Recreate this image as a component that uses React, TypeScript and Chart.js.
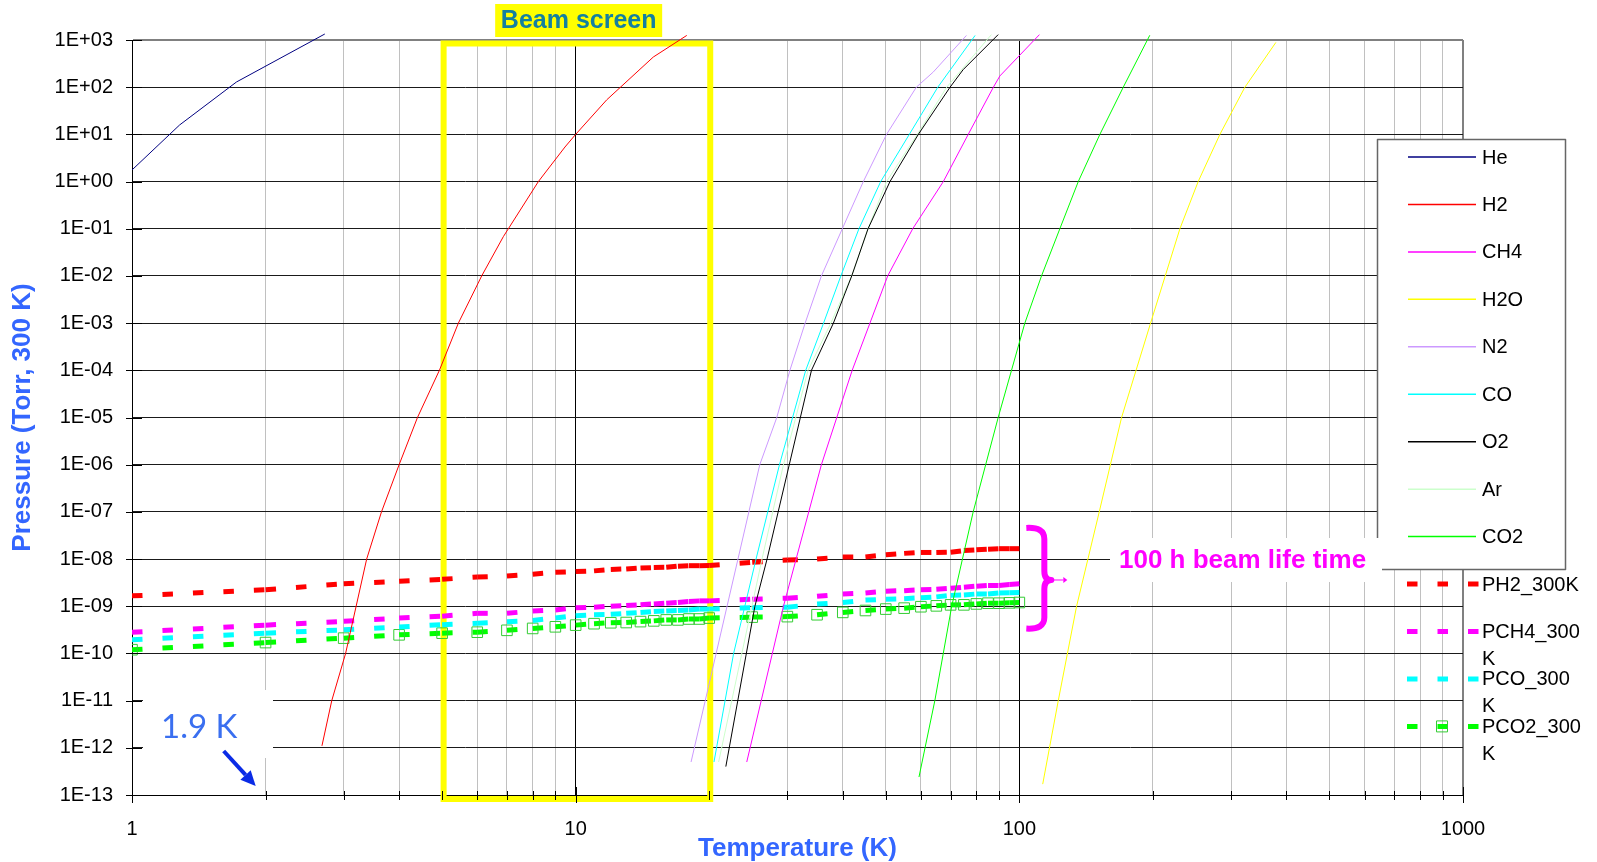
import React, { useEffect, useRef } from 'react';
import { Chart, registerables } from 'chart.js';

Chart.register(...registerables);

const FONT = "'Liberation Sans', Arial, Helvetica, sans-serif";

// ---- Saturated vapour pressure curves: temperature [K] / pressure [Torr] ----
const heT = [1.0, 1.28, 1.72, 2.72];
const heP = [1.76, 15.8, 129, 1340];

const h2T = [2.68, 2.82, 3.03, 3.38, 3.65, 4.0, 4.4, 4.93, 5.44, 6.14, 6.87, 8.24, 9.46, 10.0, 11.75, 14.96, 17.8];
const h2P = [1.1e-12, 1e-11, 1e-10, 1e-8, 1e-7, 1e-6, 1e-5, 1e-4, 1e-3, 1e-2, 6.8e-2, 1, 5.4, 10, 54, 435, 1250];

const ch4T = [24.3, 29.4, 35.8, 42.0, 50.5, 57.5, 67.4, 76.7, 87.4, 90.4, 111];
const ch4P = [5e-13, 1e-9, 1e-6, 1e-4, 1e-2, 0.1, 1, 10, 100, 173, 1300];

const h2oT = [112.9, 122.4, 134.6, 151.4, 170.0, 197.6, 230.1, 253.0, 283.2, 322.4, 378.7];
const h2oP = [1.7e-13, 1e-11, 1e-9, 1e-7, 1e-5, 1e-3, 0.1, 1, 10, 100, 890];

const n2T = [18.2, 26.0, 28.4, 30.4, 32.9, 35.8, 39.9, 44.5, 50.2, 58.6, 64.0, 76.0];
const n2P = [5e-13, 1e-6, 1e-5, 1e-4, 1e-3, 1e-2, 0.1, 1, 10, 100, 210, 1250];

const coT = [20.5, 22.7, 25.5, 28.8, 33.0, 36.2, 39.6, 43.5, 48.7, 56.5, 65.5, 79.5];
const coP = [5e-13, 1e-10, 1e-8, 1e-6, 1e-4, 1e-3, 1e-2, 0.1, 1, 10, 100, 1250];

const o2T = [21.8, 25.35, 27.0, 30.3, 34.0, 38.1, 41.9, 45.6, 51.1, 59.2, 69.8, 74.7, 89.6];
const o2P = [4e-13, 1e-9, 1e-8, 1e-6, 1e-4, 1e-3, 1e-2, 0.1, 1, 10, 100, 235, 1300];

const arT = [21.0, 26.3, 29.4, 33.4, 37.6, 41.9, 45.6, 50.2, 58.9, 68.6, 86.5];
const arP = [5e-13, 1e-8, 1e-6, 1e-4, 1e-3, 1e-2, 0.1, 1, 10, 100, 1300];

const co2T = [59.4, 64.5, 70.4, 78.7, 89.6, 102.9, 112.2, 123.4, 135.8, 151.9, 171.5, 196.8];
const co2P = [2.4e-13, 1e-11, 1e-9, 1e-7, 1e-5, 1e-3, 1e-2, 0.1, 1, 10, 100, 1260];

// ---- Equivalent pressures at 300 K for a 100 h beam life time ----
const T300 = [1, 2, 3, 4, 5, 6, 7, 8, 9, 10, 11, 12, 13, 14, 15, 16, 17, 18, 19, 20, 25, 30, 35, 40, 45, 50, 55, 60, 65, 70, 75, 80, 85, 90, 95, 100];
const pH2_300K = [1.66e-9, 2.24e-9, 2.99e-9, 3.39e-9, 3.72e-9, 4.17e-9, 4.37e-9, 4.79e-9, 5.25e-9, 5.43e-9, 5.62e-9, 6.03e-9, 6.17e-9, 6.46e-9, 6.61e-9, 6.68e-9, 7.08e-9, 7.24e-9, 7.24e-9, 7.33e-9, 8.51e-9, 9.55e-9, 1.0e-8, 1.10e-8, 1.11e-8, 1.24e-8, 1.32e-8, 1.38e-8, 1.38e-8, 1.40e-8, 1.51e-8, 1.57e-8, 1.62e-8, 1.66e-8, 1.66e-8, 1.66e-8];
const pCH4_300K = [2.82e-10, 3.98e-10, 4.79e-10, 5.62e-10, 6.17e-10, 7.08e-10, 7.08e-10, 7.94e-10, 8.32e-10, 9.33e-10, 9.55e-10, 1.0e-9, 1.04e-9, 1.08e-9, 1.12e-9, 1.16e-9, 1.20e-9, 1.26e-9, 1.30e-9, 1.30e-9, 1.41e-9, 1.48e-9, 1.62e-9, 1.82e-9, 1.91e-9, 2.09e-9, 2.14e-9, 2.24e-9, 2.29e-9, 2.40e-9, 2.54e-9, 2.66e-9, 2.75e-9, 2.75e-9, 2.88e-9, 2.99e-9];
const pCO_300K = [1.95e-10, 2.69e-10, 3.16e-10, 3.63e-10, 4.07e-10, 4.37e-10, 4.68e-10, 5.01e-10, 5.62e-10, 6.31e-10, 6.61e-10, 6.76e-10, 7.08e-10, 7.41e-10, 7.76e-10, 7.94e-10, 8.13e-10, 8.32e-10, 8.71e-10, 8.71e-10, 9.33e-10, 9.55e-10, 1.11e-9, 1.20e-9, 1.35e-9, 1.41e-9, 1.45e-9, 1.51e-9, 1.58e-9, 1.70e-9, 1.74e-9, 1.82e-9, 1.82e-9, 1.91e-9, 1.93e-9, 1.95e-9];
const pCO2_300K = [1.20e-10, 1.70e-10, 2.11e-10, 2.48e-10, 2.69e-10, 2.82e-10, 3.09e-10, 3.39e-10, 3.67e-10, 3.98e-10, 4.27e-10, 4.47e-10, 4.52e-10, 4.73e-10, 4.90e-10, 5.13e-10, 5.13e-10, 5.37e-10, 5.37e-10, 5.62e-10, 5.89e-10, 6.03e-10, 6.61e-10, 7.41e-10, 8.13e-10, 8.71e-10, 9.12e-10, 9.77e-10, 1.02e-9, 1.07e-9, 1.07e-9, 1.12e-9, 1.16e-9, 1.16e-9, 1.18e-9, 1.20e-9];

const solidNames = ['He', 'H2', 'CH4', 'H2O', 'N2', 'CO', 'O2', 'Ar', 'CO2'];
const solidColors = ['#000080', '#FF0000', '#FF00FF', '#FFFF00', '#CC99FF', '#00FFFF', '#000000', '#CCFFCC', '#00FF00'];
const solidT = [heT, h2T, ch4T, h2oT, n2T, coT, o2T, arT, co2T];
const solidP = [heP, h2P, ch4P, h2oP, n2P, coP, o2P, arP, co2P];

const dashNames = ['PH2_300K', 'PCH4_300 K', 'PCO_300 K', 'PCO2_300 K'];
const dashColors = ['#FF0000', '#FF00FF', '#00FFFF', '#00FF00'];
const dashP = [pH2_300K, pCH4_300K, pCO_300K, pCO2_300K];
const markerColor = '#33CC33';

// axis ticks
const xTickValues = [1, 2, 3, 4, 5, 6, 7, 8, 9, 10, 20, 30, 40, 50, 60, 70, 80, 90, 100, 200, 300, 400, 500, 600, 700, 800, 900, 1000];
const yExponents = [-13, -12, -11, -10, -9, -8, -7, -6, -5, -4, -3, -2, -1, 0, 1, 2, 3];

// annotation anchors (data units)
const beamScreenT = [5, 20];
const cryoLabelT = 1.9;
const braceP = [4.8e-8, 3.6e-9, 3.2e-10];
const braceT = 100;

const isDecade = (v: number) => Math.abs(Math.log10(v) - Math.round(Math.log10(v))) < 1e-9;
const expLabel = (v: number) => {
  const e = Math.round(Math.log10(v));
  return '1E' + (e >= 0 ? '+' : '-') + String(Math.abs(e)).padStart(2, '0');
};
const pts = (xs: number[], ys: number[]) => xs.map((x, i) => ({ x, y: ys[i] }));

const annotPlugin = {
  id: 'annot',
  beforeDatasetsDraw(chart: any) {
    const { ctx, scales, chartArea: a } = chart;
    const x = scales.x;
    ctx.save();
    ctx.strokeStyle = '#FFFF00';
    ctx.lineWidth = 6;
    const x0 = x.getPixelForValue(beamScreenT[0]) + 1.5;
    const x1 = x.getPixelForValue(beamScreenT[1]) + 1;
    const y0 = a.top + 3.5;
    const y1 = a.bottom + 4;
    ctx.strokeRect(x0, y0, x1 - x0, y1 - y0);
    ctx.restore();
  },
  afterDraw(chart: any) {
    const { ctx, scales, chartArea: a } = chart;
    const x = scales.x;
    const y = scales.y;
    ctx.save();

    // tick marks crossing the axes
    ctx.strokeStyle = '#000';
    ctx.lineWidth = 1;
    ctx.beginPath();
    yExponents.forEach((e) => {
      const py = Math.round(y.getPixelForValue(Math.pow(10, e))) + 0.5;
      ctx.moveTo(a.left - 6, py);
      ctx.lineTo(a.left + 10, py);
    });
    xTickValues.forEach((v) => {
      const px = Math.round(x.getPixelForValue(v)) + 0.5;
      const major = isDecade(v);
      ctx.moveTo(px, a.bottom - (major ? 8 : 4));
      ctx.lineTo(px, a.bottom + (major ? 8 : 5));
    });
    ctx.stroke();

    // "1.9 K" label with arrow
    ctx.fillStyle = '#FFFFFF';
    ctx.fillRect(143, 690, 130, 68);
    ctx.fillStyle = '#3A6FF0';
    ctx.font = "33px Lato, 'Open Sans', sans-serif";
    ctx.textAlign = 'left';
    ctx.textBaseline = 'alphabetic';
    ctx.fillText('1.9 K', 161, 738);
    const tipX = x.getPixelForValue(cryoLabelT);
    const tipY = a.bottom - 9;
    const sx = tipX - 32, sy = tipY - 35;
    const dx = tipX - sx, dy = tipY - sy;
    const len = Math.hypot(dx, dy);
    const ux = dx / len, uy = dy / len;
    const bx = tipX - 15 * ux, by = tipY - 15 * uy;
    ctx.strokeStyle = '#0A2BE6';
    ctx.fillStyle = '#0A2BE6';
    ctx.lineWidth = 4;
    ctx.beginPath();
    ctx.moveTo(sx, sy);
    ctx.lineTo(bx, by);
    ctx.stroke();
    ctx.beginPath();
    ctx.moveTo(tipX, tipY);
    ctx.lineTo(bx - 7 * uy, by + 7 * ux);
    ctx.lineTo(bx + 7 * uy, by - 7 * ux);
    ctx.closePath();
    ctx.fill();

    // magenta brace
    const xl = x.getPixelForValue(braceT) + 7;
    const xv = xl + 18;
    const xt = xl + 25;
    const yt = y.getPixelForValue(braceP[0]);
    const ym = y.getPixelForValue(braceP[1]);
    const yb = y.getPixelForValue(braceP[2]);
    ctx.strokeStyle = '#FF00FF';
    ctx.lineWidth = 6;
    ctx.lineJoin = 'round';
    ctx.beginPath();
    ctx.moveTo(xl, yt + 1);
    ctx.quadraticCurveTo(xv, yt, xv, yt + 12);
    ctx.lineTo(xv, ym - 9);
    ctx.quadraticCurveTo(xv, ym, xt, ym);
    ctx.quadraticCurveTo(xv, ym, xv, ym + 9);
    ctx.lineTo(xv, yb - 12);
    ctx.quadraticCurveTo(xv, yb, xl, yb - 1);
    ctx.stroke();
    ctx.lineWidth = 1;
    ctx.beginPath();
    ctx.moveTo(xt, ym);
    ctx.lineTo(xt + 12, ym);
    ctx.stroke();
    ctx.fillStyle = '#FF00FF';
    ctx.beginPath();
    ctx.moveTo(xt + 16, ym);
    ctx.lineTo(xt + 12, ym - 3);
    ctx.lineTo(xt + 12, ym + 3);
    ctx.closePath();
    ctx.fill();

    // legend
    const lx = 1377, ly = 139, lw = 188, lh = 430;
    ctx.fillStyle = '#FFFFFF';
    ctx.fillRect(lx, ly, lw, lh);
    ctx.strokeStyle = '#666666';
    ctx.lineWidth = 1.5;
    ctx.strokeRect(lx + 0.5, ly + 0.5, lw, lh);
    const itemY = (i: number) => 157 + i * 47.45;
    ctx.font = `20px ${FONT}`;
    ctx.textBaseline = 'middle';
    ctx.textAlign = 'left';
    solidNames.forEach((name, i) => {
      const iy = itemY(i);
      ctx.strokeStyle = solidColors[i];
      ctx.lineWidth = 1.5;
      ctx.setLineDash([]);
      ctx.beginPath();
      ctx.moveTo(1408, iy);
      ctx.lineTo(1476, iy);
      ctx.stroke();
      ctx.fillStyle = '#000';
      ctx.fillText(name, 1482, iy + 1);
    });
    dashNames.forEach((name, j) => {
      const iy = itemY(solidNames.length + j);
      ctx.strokeStyle = dashColors[j];
      ctx.lineWidth = 5;
      ctx.setLineDash([10.5, 20]);
      ctx.beginPath();
      ctx.moveTo(1407, iy);
      ctx.lineTo(1479, iy);
      ctx.stroke();
      ctx.setLineDash([]);
      if (j === dashNames.length - 1) {
        ctx.strokeStyle = markerColor;
        ctx.lineWidth = 1;
        ctx.strokeRect(1436.5, iy - 5.5, 11, 11);
      }
      ctx.fillStyle = '#000';
      name.split(' ').forEach((line, k) => ctx.fillText(line, 1482, iy + 1 + k * 27));
    });

    // "100 h beam life time"
    ctx.fillStyle = '#FFFFFF';
    ctx.fillRect(1110, 538, 272, 44);
    ctx.fillStyle = '#FF00FF';
    ctx.font = `bold 26px ${FONT}`;
    ctx.textBaseline = 'middle';
    ctx.fillText('100 h beam life time', 1119, 561);

    // "Beam screen" label
    const cx = (x.getPixelForValue(beamScreenT[0]) + x.getPixelForValue(beamScreenT[1])) / 2 + 3;
    ctx.fillStyle = '#FFFF00';
    ctx.fillRect(cx - 83.5, 4, 167, 33);
    ctx.fillStyle = '#1480A0';
    ctx.font = `bold 25px ${FONT}`;
    ctx.textAlign = 'center';
    ctx.fillText('Beam screen', cx, 21.5);

    ctx.restore();
  },
};

export default function App() {
  const ref = useRef<HTMLCanvasElement | null>(null);

  useEffect(() => {
    const canvas = ref.current;
    if (!canvas) return;
    const datasets: any[] = [];
    solidNames.forEach((name, i) => {
      datasets.push({
        label: name,
        data: pts(solidT[i], solidP[i]),
        borderColor: solidColors[i],
        backgroundColor: solidColors[i],
        borderWidth: 1,
        pointRadius: 0,
        fill: false,
        clip: false,
      });
    });
    dashNames.forEach((name, j) => {
      const withMarker = j === dashNames.length - 1;
      datasets.push({
        label: name,
        data: pts(T300, dashP[j]),
        borderColor: dashColors[j],
        backgroundColor: 'transparent',
        borderWidth: 5,
        borderDash: [10.5, 20],
        borderCapStyle: 'butt',
        segment: { borderDashOffset: (c: any) => c.p0DataIndex * 0.001 },
        pointRadius: withMarker ? 7.5 : 0,
        pointStyle: 'rect',
        pointBorderColor: markerColor,
        pointBackgroundColor: 'transparent',
        pointBorderWidth: 1,
        fill: false,
      });
    });

    const titleFont = { family: FONT, size: 26, weight: 'bold' as const };
    const tickFont = { family: FONT, size: 20 };

    const chart = new Chart(canvas, {
      type: 'line',
      data: { datasets },
      options: {
        responsive: false,
        animation: false,
        devicePixelRatio: 1,
        layout: { padding: { top: 40, right: 134, left: 0, bottom: 0 } },
        elements: { line: { tension: 0 } },
        plugins: { legend: { display: false }, tooltip: { enabled: false } },
        scales: {
          x: {
            type: 'logarithmic',
            min: 1,
            max: 1000,
            afterFit: (s: any) => { s.height = 67; },
            afterBuildTicks: (s: any) => { s.ticks = xTickValues.map((v) => ({ value: v })); },
            ticks: {
              autoSkip: false,
              maxRotation: 0,
              minRotation: 0,
              padding: 22,
              color: '#000',
              font: tickFont,
              callback: (v: any) => (isDecade(Number(v)) ? String(Math.round(Number(v))) : ''),
            },
            grid: {
              drawTicks: false,
              color: (c: any) => {
                const v = c.tick ? c.tick.value : 0;
                if (v === 1000) return '#808080';
                return isDecade(v) ? '#000000' : '#C0C0C0';
              },
              lineWidth: (c: any) => (c.tick && c.tick.value === 1000 ? 2 : 1),
            },
            border: { display: true, color: '#000', width: 1 },
            title: { display: true, text: 'Temperature (K)', color: '#3366FF', font: titleFont, padding: { top: 0, bottom: -2 } },
          },
          y: {
            type: 'logarithmic',
            min: 1e-13,
            max: 1e3,
            afterFit: (s: any) => { s.width = 132; },
            afterBuildTicks: (s: any) => { s.ticks = yExponents.map((e) => ({ value: Math.pow(10, e) })); },
            ticks: {
              autoSkip: false,
              padding: 19,
              color: '#000',
              font: tickFont,
              callback: (v: any) => expLabel(Number(v)),
            },
            grid: {
              drawTicks: false,
              color: (c: any) => (c.tick && c.tick.value >= 999 ? '#808080' : '#1A1A1A'),
              lineWidth: (c: any) => (c.tick && c.tick.value >= 999 ? 2 : 1),
            },
            border: { display: true, color: '#000', width: 1 },
            title: { display: true, text: 'Pressure (Torr, 300 K)', color: '#3366FF', font: titleFont, padding: { top: 7, bottom: 0 } },
          },
        },
      },
      plugins: [annotPlugin],
    } as any);

    return () => chart.destroy();
  }, []);

  return (
    <div style={{ position: 'absolute', left: 0, top: 0, width: 1597, height: 862, background: '#FFFFFF' }}>
      <canvas ref={ref} width={1597} height={862} style={{ display: 'block', width: 1597, height: 862 }} />
    </div>
  );
}
